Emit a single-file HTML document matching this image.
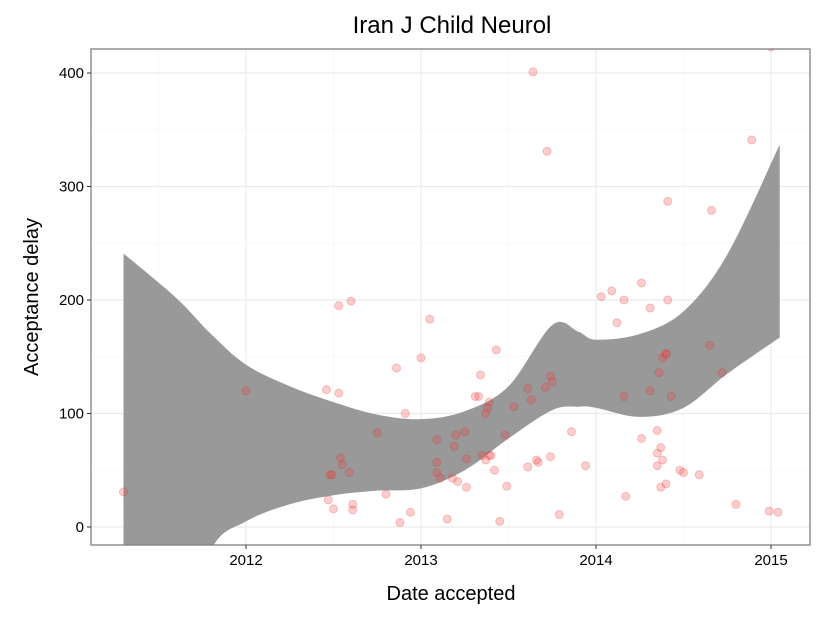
<!DOCTYPE html>
<html><head><meta charset="utf-8"><style>
html,body{margin:0;padding:0;background:#fff;overflow:hidden;width:825px;height:618px}
svg{display:block;font-family:"Liberation Sans",sans-serif}
</style></head><body>
<svg id="chart" width="825" height="618"></svg>
<script>
const xTicks=[2012,2013,2014,2015];
const yTicks=[0,100,200,300,400];
const ribYears=[2011.30,2011.6,2011.8,2012.0,2012.25,2012.5,2012.75,2013.0,2013.25,2013.5,2013.75,2013.9,2014.0,2014.25,2014.5,2014.75,2015.05];
const ribUpper=[241,202,170,143,124,110,99,95,102,124,178,172,165,170,190,240,337];
const ribLower=[-300,-110,-20,5,20,28,32,34,50,78,103,106,105,97,105,135,167];
const ptYears=[2011.30,2012.0,2012.46,2012.53,2012.53,2012.60,2012.48,2012.49,2012.47,2012.50,2012.54,2012.55,2012.59,2012.61,2012.61,2012.75,2012.80,2012.86,2012.88,2012.91,2012.94,2013.0,2013.05,2013.09,2013.09,2013.09,2013.11,2013.15,2013.18,2013.19,2013.20,2013.21,2013.25,2013.26,2013.26,2013.31,2013.33,2013.34,2013.35,2013.37,2013.37,2013.38,2013.39,2013.39,2013.40,2013.42,2013.43,2013.45,2013.48,2013.49,2013.53,2013.61,2013.61,2013.63,2013.66,2013.67,2013.71,2013.72,2013.74,2013.75,2013.74,2013.64,2013.79,2013.86,2013.94,2014.03,2014.09,2014.12,2014.16,2014.16,2014.17,2014.26,2014.26,2014.31,2014.31,2014.35,2014.35,2014.35,2014.36,2014.37,2014.37,2014.38,2014.38,2014.40,2014.40,2014.40,2014.41,2014.41,2014.43,2014.48,2014.50,2014.59,2014.65,2014.66,2014.72,2014.80,2014.89,2014.99,2015.0,2015.04];
const ptDelays=[31,120,121,118,195,199,46,46,24,16,61,55,48,20,15,83,29,140,4,100,13,149,183,77,57,48,43,7,43,71,81,40,84,35,60,115,115,134,63,59,100,105,110,63,63,50,156,5,81,36,106,53,122,112,59,57,123,331,133,128,62,401,11,84,54,203,208,180,200,115,27,215,78,193,120,85,65,54,136,35,70,149,59,152,153,38,287,200,115,50,48,46,160,279,136,20,341,14,423,13,41];

const NS="http://www.w3.org/2000/svg";
const svg=document.getElementById('chart');
const L=91,R=810,T=49,B=545;
const x=v=>246+(v-2012)*175;
const y=v=>527-v*1.135;
function el(tag,attrs,parent){const e=document.createElementNS(NS,tag);for(const k in attrs)e.setAttribute(k,attrs[k]);(parent||svg).appendChild(e);return e;}
function smooth(pts,start){
  let d=start?'M'+pts[0][0]+','+pts[0][1]:'L'+pts[0][0]+','+pts[0][1];
  for(let i=0;i<pts.length-1;i++){
    const p0=pts[Math.max(0,i-1)],p1=pts[i],p2=pts[i+1],p3=pts[Math.min(pts.length-1,i+2)];
    const c1=[p1[0]+(p2[0]-p0[0])/6,p1[1]+(p2[1]-p0[1])/6];
    const c2=[p2[0]-(p3[0]-p1[0])/6,p2[1]-(p3[1]-p1[1])/6];
    d+='C'+c1[0]+','+c1[1]+' '+c2[0]+','+c2[1]+' '+p2[0]+','+p2[1];
  }
  return d;
}
const defs=el('defs',{});
const cp=el('clipPath',{id:'clip'},defs);
el('rect',{x:L,y:T,width:R-L,height:B-T},cp);
const grid=el('g',{});


for(let v=2011.5;v<2015.3;v+=0.5){const major=Number.isInteger(v);el('line',{x1:x(v),x2:x(v),y1:T,y2:B,stroke:major?'#ebebeb':'#f5f5f5','stroke-width':major?1.2:0.8},grid);}
for(let v=0;v<=400;v+=50){const major=v%100===0;el('line',{x1:L,x2:R,y1:y(v),y2:y(v),stroke:major?'#ebebeb':'#f5f5f5','stroke-width':major?1.2:0.8},grid);}
const up=ribYears.map((v,i)=>[x(v),y(ribUpper[i])]);
const lo=ribYears.map((v,i)=>[x(v),y(ribLower[i])]).reverse();
const rib=el('path',{d:smooth(up,true)+smooth(lo,false)+'Z',fill:'#999999','clip-path':'url(#clip)'});


const pg=el('g',{'clip-path':'url(#clip)'});


ptYears.forEach((v,i)=>{const c=el('circle',{cx:x(v),cy:y(ptDelays[i]),r:4,fill:'rgba(248,60,60,0.25)',stroke:'rgba(230,40,40,0.25)','stroke-width':1},pg);

});
const br=el('rect',{x:L,y:T,width:R-L,height:B-T,fill:'none',stroke:'#7f7f7f','stroke-width':1.3});


xTicks.forEach(v=>{el('line',{x1:x(v),x2:x(v),y1:B,y2:B+4,stroke:'#333'});
const t=el('text',{x:x(v),y:B+20,'text-anchor':'middle','font-size':15,fill:'#000'});t.textContent=v;

});
yTicks.forEach(v=>{el('line',{x1:L-4,x2:L,y1:y(v),y2:y(v),stroke:'#333'});
const t=el('text',{x:L-7,y:y(v)+5,'text-anchor':'end','font-size':15,fill:'#000'});t.textContent=v;

});
const title=el('text',{x:452,y:33,'text-anchor':'middle','font-size':24});title.textContent='Iran J Child Neurol';


const xt=el('text',{x:451,y:600,'text-anchor':'middle','font-size':20});xt.textContent='Date accepted';


const yt=el('text',{x:0,y:0,'text-anchor':'middle','font-size':20,transform:'translate(38,297) rotate(-90)'});yt.textContent='Acceptance delay';


</script>
</body></html>
